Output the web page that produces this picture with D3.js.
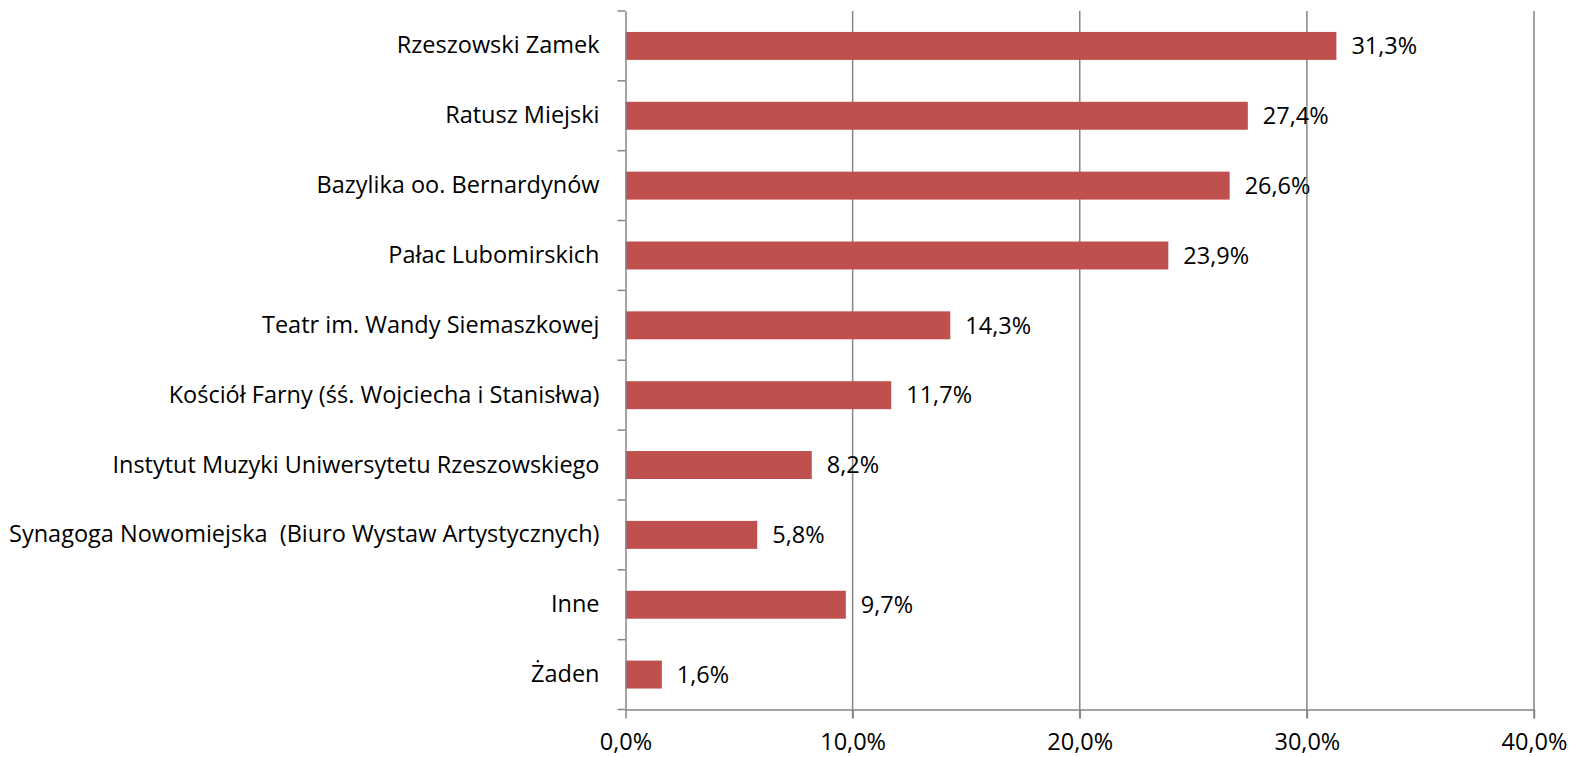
<!DOCTYPE html>
<html>
<head>
<meta charset="utf-8">
<script src="https://cdn.jsdelivr.net/npm/d3@7"></script>
<style>
  body { margin: 0; background: #fff; }
  text { font-family: "Open Sans", sans-serif; fill: #000; white-space: pre; }
</style>
</head>
<body>
<div id="container"></div>
<script>
var categories = [
    "Rzeszowski Zamek",
    "Ratusz Miejski",
    "Bazylika oo. Bernardynów",
    "Pałac Lubomirskich",
    "Teatr im. Wandy Siemaszkowej",
    "Kościół Farny (śś. Wojciecha i Stanisłwa)",
    "Instytut Muzyki Uniwersytetu Rzeszowskiego",
    "Synagoga Nowomiejska  (Biuro Wystaw Artystycznych)",
    "Inne",
    "Żaden"
]
var values = [31.3, 27.4, 26.6, 23.9, 14.3, 11.7, 8.2, 5.8, 9.7, 1.6]
var xTicks = [0, 10, 20, 30, 40]

var svg_width = 1570,
    svg_height = 757

var plot_left = 625.5, plot_right = 1534,
    plot_top = 11, plot_bottom = 709.5

var font_size = "23.5px"

var fmt = function(v) { return v.toFixed(1).replace(".", ",") + "%" }

var x = d3.scaleLinear()
    .domain([0, 40])
    .range([plot_left, plot_right])

var y = d3.scaleBand()
    .domain(categories)
    .range([plot_top, plot_bottom])
    .paddingInner(0.6)
    .paddingOuter(0.3)

var band = d3.scaleBand().domain(categories).range([plot_top, plot_bottom])

var svg = d3.select("#container").append("svg")
    .attr("width", svg_width)
    .attr("height", svg_height)

// vertical gridlines
svg.selectAll(".grid")
    .data(xTicks.slice(1))
    .enter().append("line")
    .attr("x1", d => x(d)).attr("x2", d => x(d))
    .attr("y1", plot_top).attr("y2", plot_bottom + 9)
    .attr("stroke", "#868686")
    .attr("stroke-width", 1.5)

// bars
svg.selectAll(".bar")
    .data(values)
    .enter().append("rect")
    .attr("x", x(0))
    .attr("y", (d, i) => y(categories[i]))
    .attr("width", d => x(d) - x(0))
    .attr("height", y.bandwidth())
    .style("fill", "#C0504D")

// value labels
svg.selectAll(".val")
    .data(values)
    .enter().append("text")
    .attr("x", d => x(d) + 15)
    .attr("y", (d, i) => y(categories[i]) + y.bandwidth() / 2)
    .attr("dy", "0.35em")
    .style("font-size", font_size)
    .text(d => fmt(d))

// y axis
var yAxis = svg.append("g")
    .attr("transform", "translate(" + plot_left + ",0)")
    .call(d3.axisLeft(band).tickSize(0).tickPadding(26))
yAxis.select(".domain").attr("stroke", "#868686").attr("stroke-width", 1.5)
yAxis.selectAll("text").style("font-size", font_size).attr("font-family", null)

// y tick marks at band boundaries
var bounds = categories.map(c => band(c)).concat([plot_bottom])
svg.selectAll(".ytick")
    .data(bounds)
    .enter().append("line")
    .attr("x1", plot_left - 8).attr("x2", plot_left)
    .attr("y1", d => d).attr("y2", d => d)
    .attr("stroke", "#868686")
    .attr("stroke-width", 1.5)

// x axis
var xAxis = svg.append("g")
    .attr("transform", "translate(0," + plot_bottom + ")")
    .call(d3.axisBottom(x).tickValues(xTicks).tickSize(9).tickPadding(15).tickFormat(fmt).tickSizeOuter(0))
xAxis.select(".domain").attr("stroke", "#868686").attr("stroke-width", 1.5)
xAxis.selectAll(".tick line").attr("stroke", "#868686").attr("stroke-width", 1.5)
xAxis.selectAll("text").style("font-size", font_size).attr("font-family", null)
</script>
</body>
</html>
